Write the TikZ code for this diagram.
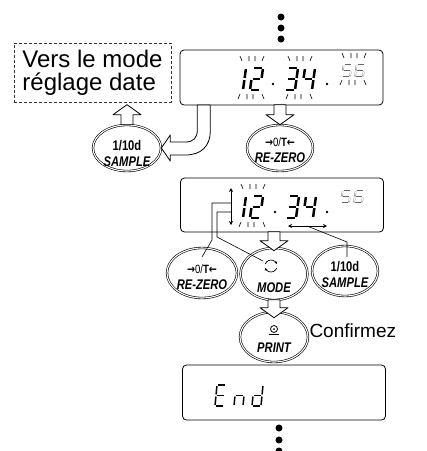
\documentclass[tikz,border=0pt]{standalone}
\usepackage{fontspec}
\setmainfont{Liberation Sans}
\newfontfamily\keyfont[FakeStretch=0.8]{Liberation Sans}
\newfontfamily\arrowfont[FakeStretch=0.8]{DejaVu Sans}
\usetikzlibrary{arrows.meta,positioning,shapes.geometric}

% seven segment pieces, unit cell 1 x 2
\newcommand{\lcdsega}[1]{\draw[#1] (0.12,2) -- (0.88,2);}
\newcommand{\lcdsegb}[1]{\draw[#1] (1,1.9) -- (1,1.1);}
\newcommand{\lcdsegc}[1]{\draw[#1] (1,0.9) -- (1,0.1);}
\newcommand{\lcdsegd}[1]{\draw[#1] (0.12,0) -- (0.88,0);}
\newcommand{\lcdsege}[1]{\draw[#1] (0,0.9) -- (0,0.1);}
\newcommand{\lcdsegf}[1]{\draw[#1] (0,1.9) -- (0,1.1);}
\newcommand{\lcdsegg}[1]{\draw[#1] (0.12,1) -- (0.88,1);}
\newcommand{\lcdchar}[3]{\begin{scope}[shift={(#1)}]
  \foreach \s in {#2} {\csname lcdseg\s\endcsname{#3}}\end{scope}}
% blinking ticks over and under a digit pair
\newcommand{\blinkmarks}[3]{\draw[blink] (#1-12,#2) -- ++(2,5) (#1-3,#2) -- ++(0,5) (#1+3,#2) -- ++(0,5) (#1+12,#2) -- ++(-2,5)
  (#1-14,#3+5) -- ++(2,-5) (#1-5,#3) -- ++(0,5) (#1+1,#3) -- ++(0,5) (#1+10,#3) -- ++(2,5);}
% hollow arrow: tip, length, rotation
\newcommand{\blockarrow}[3]{\draw[blockarr, shift={(#1)}, rotate=#3] (0,0) -- (-14,-10) -- (-6,-10) -- (-6,-#2) -- (6,-#2) -- (6,-10) -- (14,-10) -- cycle;}
\newcommand{\zerokey}{{\mdseries\fontsize{12}{16}\selectfont{\arrowfont\bfseries →}0/\textbf{T}{\arrowfont\bfseries ←}}}

\begin{document}
\begin{tikzpicture}[x=1pt, y=-1pt, line join=round,
  lcd/.style={draw, rounded corners=4pt, line width=0.8pt, minimum width=203pt, minimum height=55pt, inner sep=0pt},
  key/.style={ellipse, draw, double, double distance=1.1pt, line width=0.6pt, fill=white, inner sep=0pt},
  keytext/.style={align=center, inner sep=0pt, font=\keyfont\bfseries\fontsize{14}{16}\selectfont},
  blockarr/.style={draw, line width=0.8pt, fill=white},
  bigseg/.style={x={(10pt,0pt)}, y={(1.5pt,11pt)}, line width=2.5pt},
  dimseg/.style={x={(8pt,0pt)}, y={(0.8pt,6pt)}, line width=0.35pt, color=black!60, double=white, double distance=0.8pt},
  endseg/.style={x={(9pt,0pt)}, y={(1pt,10.5pt)}, line width=1.5pt},
  blink/.style={line width=0.6pt}, lead/.style={line width=0.6pt},
  dimarrow/.style={{Stealth[length=4pt,width=4pt]}-{Stealth[length=4pt,width=4pt]}, line width=1pt},
  datebox/.style={draw=black!80, densely dashed, line width=0.6pt, minimum width=157pt, minimum height=59pt,
    inner sep=0pt, align=left, font=\fontsize{24}{23}\selectfont}]
\useasboundingbox (0,0) rectangle (427,451);

\foreach \y in {17,28,39} \fill (281,\y) circle[radius=3.5pt];
\foreach \y in {428,440,451} \fill (279,\y) circle[radius=3.5pt];

\node[datebox] (date) at (92.5,72.5) {Vers le mode\\réglage date};

% displays
\node[lcd] (disp1) at (281.5,77.5) {};
\node[lcd, minimum height=54pt] (disp2) at (282,205) {};
\node[lcd] (disp3) at (284,392.5) {};

\lcdchar{233,90}{b,c}{bigseg} \lcdchar{250,90}{a,b,g,e,d}{bigseg}
\lcdchar{285,90}{a,b,g,c,d}{bigseg} \lcdchar{302,90}{f,g,b,c}{bigseg}
\lcdchar{342,77}{a,f,g,c,d}{dimseg} \lcdchar{355,77}{a,f,g,e,c,d}{dimseg}
\fill (273,84) circle[radius=1.4pt] (327,84) circle[radius=1.4pt];
\blinkmarks{252}{56}{94} \blinkmarks{300}{56}{94} \blinkmarks{354}{53}{80}

\lcdchar{233,218}{b,c}{bigseg} \lcdchar{250,218}{a,b,g,e,d}{bigseg}
\lcdchar{286,218}{a,b,g,c,d}{bigseg} \lcdchar{303,218}{f,g,b,c}{bigseg}
\lcdchar{341,203}{a,f,g,c,d}{dimseg} \lcdchar{354,203}{a,f,g,e,c,d}{dimseg}
\fill (275,212) circle[radius=1.4pt] (327,212) circle[radius=1.4pt];
\blinkmarks{253}{184}{222}

\lcdchar{215,406}{a,f,g,e,d}{endseg} \lcdchar{234,406}{e,g,c}{endseg} \lcdchar{252,406}{b,c,d,e,g}{endseg}

% keys
\node[key, minimum width=68pt, minimum height=46pt] (sample1) at (127,148) {};
\node[key, minimum width=66pt, minimum height=46pt] (rezero1) at (280,148) {};
\node[key, minimum width=70pt, minimum height=50pt] (rezero2) at (202,273) {};
\node[key, minimum width=67pt, minimum height=52pt] (mode) at (274,274) {};
\node[key, minimum width=66pt, minimum height=50pt] (sample2) at (345,271) {};
\node[key, minimum width=68pt, minimum height=50pt] (print) at (274,337) {};

\blockarrow{rezero1.north}{20}{0}
\blockarrow{[yshift=20pt]sample1.north}{20}{180}
\blockarrow{[yshift=-3pt]mode.north}{19}{0}
\blockarrow{[yshift=-6pt]print.north}{18}{0}
\draw[blockarr, shift={(sample1.east)}] (36,-43) -- (36,-18) .. controls (36,-10) and (32,-6) .. (24,-6) -- (9,-6) -- (9,-13)
  -- (0,0) -- (9,13) -- (9,7) -- (24,7) .. controls (40,7) and (49,-2) .. (49,-17) -- (49,-43) -- cycle;

% cursor arrows and leaders
\coordinate (ud top) at (231,188); \coordinate (ud bot) at (231,225);
\coordinate (lr left) at (288,226); \coordinate (lr right) at (327,226);
\coordinate (hook a) at (231,203); \coordinate (hook b) at (231,212); \coordinate (lr mid) at (307,226);
\draw[dimarrow] (ud top) -- (ud bot);
\draw[dimarrow] (lr left) -- (lr right);
\draw[lead] (hook a) -- ++(-19,0) -- ++(0,37) -- ([yshift=16pt]rezero2.center);
\draw[lead] (hook b) -- ++(-14,0) -- ++(0,25) -- ([shift={(-11pt,13pt)}]mode.center);
\draw[lead] (lr mid) -- ++(40,16) -- ([shift={(2pt,14pt)}]sample2.center);

% key labels
\node[keytext] (sample1 txt) at ([yshift=-5pt]sample1.center) {1/10d\\\itshape SAMPLE};
\node[keytext] (rezero1 txt) at ([yshift=-2pt]rezero1.center) {\zerokey\\\itshape RE-ZERO};
\node[keytext] (rezero2 txt) at ([yshift=-4pt]rezero2.center) {\zerokey\\\itshape RE-ZERO};
\node[keytext] (mode txt) at ([yshift=-14pt]mode.center) {\itshape MODE};
\node[keytext] (sample2 txt) at ([yshift=-3pt]sample2.center) {1/10d\\\itshape SAMPLE};
\node[keytext] (print txt) at ([yshift=-11pt]print.center) {\itshape PRINT};
\begin{scope}[shift={([shift={(-3pt,8pt)}]mode.center)}, x=1pt, y=1pt, line width=0.7pt, -{Stealth[length=2.5pt,width=3pt]}]
  \draw (160:6) arc[start angle=160, end angle=20, radius=6];
  \draw (-20:6) arc[start angle=-20, end angle=-160, radius=6];
\end{scope}
\draw[line width=0.8pt] ([yshift=8pt]print.center) circle[radius=3.5pt];
\fill ([yshift=8pt]print.center) circle[radius=1pt];
\draw[line width=0.9pt] ([shift={(-5pt,2.5pt)}]print.center) -- ([shift={(5pt,2.5pt)}]print.center);

\node[right=1pt of print, yshift=6pt, inner sep=0pt, font=\fontsize{19}{22}\selectfont] (confirm) {Confirmez};
\end{tikzpicture}
\end{document}
